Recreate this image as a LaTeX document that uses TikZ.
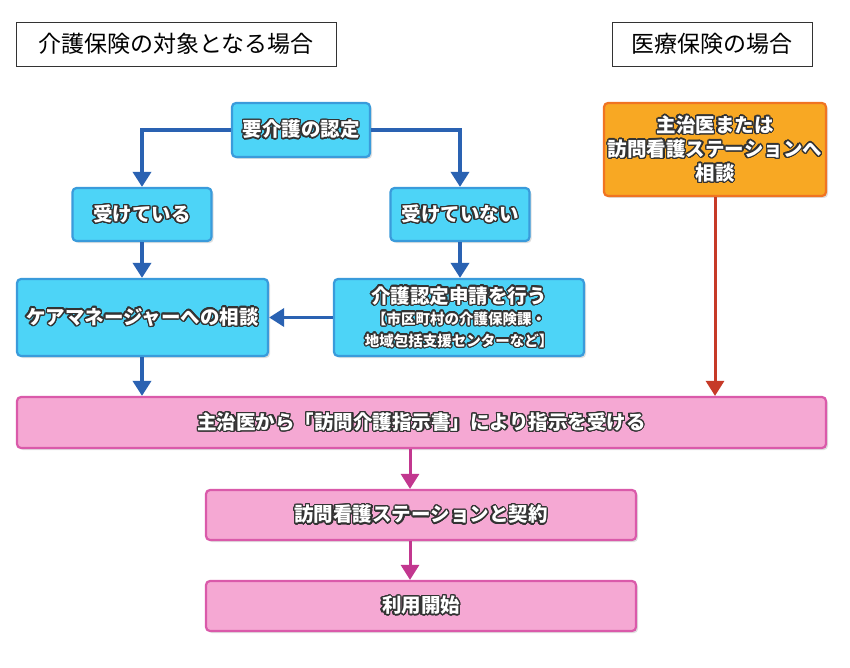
\documentclass[tikz,border=0pt]{standalone}
\usepackage{fontspec}
\setmainfont{Noto Sans CJK JP}
\usepackage{contour}
\contourlength{1.3pt}
\contournumber{24}
\usetikzlibrary{arrows.meta,shadows}
\definecolor{bfill}{HTML}{4DD4F7}
\definecolor{bborder}{HTML}{3A9BDB}
\definecolor{barrowc}{HTML}{2A62B2}
\definecolor{ofill}{HTML}{F8A823}
\definecolor{oborder}{HTML}{F07422}
\definecolor{rarrowc}{HTML}{C63A28}
\definecolor{pfill}{HTML}{F5A8D3}
\definecolor{pborder}{HTML}{DA5AAA}
\definecolor{parrowc}{HTML}{C2378F}
\definecolor{outl}{HTML}{333333}
\newcommand{\olt}[1]{\contour{outl}{\textcolor{white}{#1}}}
\tikzset{
  boxbase/.style={line width=2.2pt, rounded corners=4pt, align=center, inner sep=0pt,
    font=\bfseries\fontsize{19.5}{24}\selectfont,
    drop shadow={opacity=0.25, shadow xshift=2pt, shadow yshift=-2pt}},
  bluebox/.style={boxbase, draw=bborder, fill=bfill},
  orangebox/.style={boxbase, draw=oborder, fill=ofill},
  pinkbox/.style={boxbase, draw=pborder, fill=pfill},
  titlebox/.style={draw=black!80, line width=0.8pt, fill=white, inner sep=0pt,
    font=\fontsize{23}{26}\selectfont},
  barrow/.style={draw=barrowc, line width=3.5pt, -{Triangle[width=18pt,length=15pt]}},
  rarrow/.style={draw=rarrowc, line width=3pt, -{Triangle[width=18pt,length=15pt]}},
  parrow/.style={draw=parrowc, line width=3pt, -{Triangle[width=18pt,length=15pt]}},
}
\newcommand{\smalltxt}{\fontsize{14.5}{17}\selectfont}
\begin{document}
\begin{tikzpicture}[x=1pt,y=-1pt]
\useasboundingbox[fill=white] (0,0) rectangle (850,668);
% titles
\node[titlebox, minimum width=320pt, minimum height=44pt] (t1) at (176,44) {介護保険の対象となる場合};
\node[titlebox, minimum width=200pt, minimum height=44pt] (t2) at (712,44) {医療保険の場合};
% blue boxes
\node[bluebox, minimum width=138pt, minimum height=54pt] (youkaigo) at (301,130) {\olt{要介護の認定}};
\node[bluebox, minimum width=139pt, minimum height=53pt] (ukete) at (142,214.5) {\olt{受けている}};
\node[bluebox, minimum width=139pt, minimum height=53pt] (ukenai) at (460,214.5) {\olt{受けていない}};
\node[bluebox, minimum width=251pt, minimum height=77pt] (care) at (142.5,317.5) {\olt{ケアマネージャーへの相談}};
\node[bluebox, minimum width=250pt, minimum height=77pt] (shinsei) at (459,317.5)
  {\olt{介護認定申請を行う}\\[-3pt]{\smalltxt\olt{【市区町村の介護保険課・}}\\[-2pt]{\smalltxt\olt{地域包括支援センターなど】}}};
% orange box
\node[orangebox, minimum width=222pt, minimum height=93pt] (iryo) at (715,149.5)
  {\olt{主治医または}\\\olt{訪問看護ステーションへ}\\\olt{相談}};
% pink boxes
\node[pinkbox, minimum width=809pt, minimum height=51pt] (shiji) at (421.5,422.5) {\olt{主治医から「訪問介護指示書」により指示を受ける}};
\node[pinkbox, minimum width=430pt, minimum height=50pt] (keiyaku) at (421,515) {\olt{訪問看護ステーションと契約}};
\node[pinkbox, minimum width=430pt, minimum height=50pt] (riyou) at (421,606) {\olt{利用開始}};
\coordinate (pcol) at (410,0);
% connectors
\draw[barrow] (youkaigo.west) -| (ukete.north);
\draw[barrow] (youkaigo.east) -| (ukenai.north);
\draw[barrow] (ukete.south) -- (ukete.south |- care.north);
\draw[barrow] (ukenai.south) -- (ukenai.south |- shinsei.north);
\draw[barrow] (shinsei.west) -- (care.east);
\draw[barrow] (care.south -| ukete.south) -- (ukete.south |- shiji.north);
\draw[rarrow] (iryo.south) -- (iryo.south |- shiji.north);
\draw[parrow] (shiji.south -| pcol) -- (keiyaku.north -| pcol);
\draw[parrow] (keiyaku.south -| pcol) -- (riyou.north -| pcol);
\end{tikzpicture}
\end{document}
